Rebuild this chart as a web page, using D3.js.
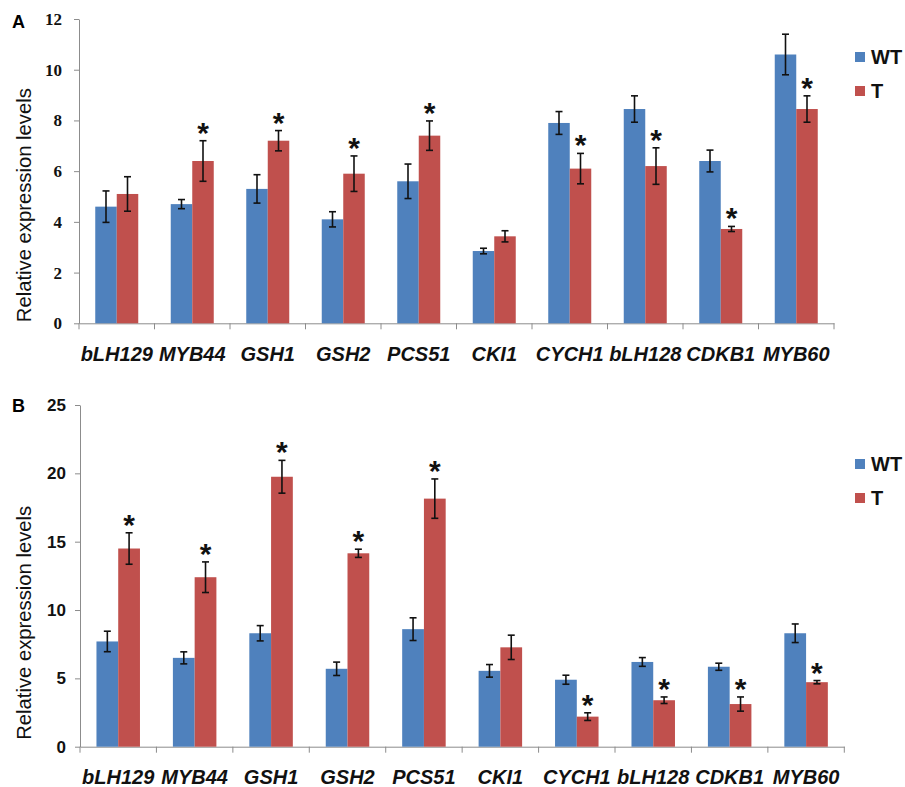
<!DOCTYPE html>
<html>
<head>
<meta charset="utf-8">
<script src="https://cdn.jsdelivr.net/npm/d3@7"></script>
<style>
  body { margin: 0; background: #fff; }
  text { font-family: "Liberation Sans", Arial, sans-serif; }
</style>
</head>
<body>
<div id="chart"></div>
<script>
// genes on the x axis (same for both panels)
var genes = ["bLH129", "MYB44", "GSH1", "GSH2", "PCS51", "CKI1", "CYCH1", "bLH128", "CDKB1", "MYB60"];
var seriesNames = ["WT", "T"];

// panel A values
var wtA = [4.6, 4.7, 5.3, 4.1, 5.6, 2.85, 7.9, 8.45, 6.4, 10.6];
var tA = [5.1, 6.4, 7.2, 5.9, 7.4, 3.43, 6.1, 6.2, 3.72, 8.45];
var wtAErr = [0.62, 0.18, 0.56, 0.3, 0.68, 0.11, 0.45, 0.52, 0.43, 0.8];
var tAErr = [0.68, 0.8, 0.4, 0.7, 0.58, 0.22, 0.6, 0.72, 0.1, 0.52];
var starA = [0, 1, 1, 1, 1, 0, 1, 1, 1, 1];
var ticksA = [0, 2, 4, 6, 8, 10, 12];

// panel B values
var wtB = [7.7, 6.5, 8.3, 5.7, 8.6, 5.55, 4.9, 6.2, 5.85, 8.3];
var tB = [14.5, 12.4, 19.75, 14.15, 18.15, 7.27, 2.2, 3.4, 3.12, 4.72];
var wtBErr = [0.75, 0.44, 0.56, 0.49, 0.83, 0.46, 0.33, 0.32, 0.26, 0.68];
var tBErr = [1.15, 1.12, 1.2, 0.3, 1.44, 0.89, 0.28, 0.24, 0.52, 0.12];
var starB = [1, 1, 1, 1, 1, 0, 1, 1, 1, 1];
var ticksB = [0, 5, 10, 15, 20, 25];

var colors = { WT: "#4F81BD", T: "#C0504D" };
var axisColor = "#8c8c8c";

var svg = d3.select("#chart")
  .append("svg")
  .attr("width", 905)
  .attr("height", 787);

svg.append("rect").attr("width", 905).attr("height", 787).attr("fill", "#fff");

function drawPanel(p) {
  var g = svg.append("g");

  var x = d3.scaleBand().domain(genes).range([p.left, p.right]);
  var y = d3.scaleLinear().domain([0, d3.max(p.ticks)]).range([p.bottom, p.top]);
  var off = (x.step() - p.groupWidth) / 2;
  var x1 = d3.scaleBand().domain(seriesNames).range([0, p.groupWidth]);

  // y axis
  var yAxis = g.append("g")
    .attr("transform", `translate(${p.left},0)`)
    .call(d3.axisLeft(y).tickValues(p.ticks).tickSize(5).tickPadding(p.tickPad).tickSizeOuter(0));
  yAxis.select(".domain").attr("stroke", axisColor);
  yAxis.selectAll(".tick line").attr("stroke", axisColor);
  yAxis.selectAll(".tick text")
    .attr("fill", "#111")
    .style("font-family", p.tickFont)
    .style("font-weight", "bold")
    .style("font-size", p.tickSize + "px");

  // x axis line + boundary ticks
  var xAxis = g.append("g")
    .attr("transform", `translate(0,${p.bottom})`)
    .call(d3.axisBottom(x).tickSize(0).tickSizeOuter(0).tickPadding(p.labelPad));
  xAxis.select(".domain").attr("stroke", axisColor);
  xAxis.selectAll(".tick text")
    .attr("fill", "#111")
    .style("font-family", "'Liberation Sans', Arial, sans-serif")
    .style("font-style", "italic")
    .style("font-weight", "bold")
    .style("font-size", "20px");

  g.selectAll(".bound")
    .data(genes.concat(["end"]))
    .enter()
    .append("line")
    .attr("x1", (d, i) => p.left + i * x.step())
    .attr("x2", (d, i) => p.left + i * x.step())
    .attr("y1", p.bottom)
    .attr("y2", p.bottom + 6)
    .attr("stroke", axisColor);

  // bars
  var rows = [];
  genes.forEach(function(gene, i) {
    rows.push({ gene: gene, s: "WT", v: p.wt[i], e: p.wtErr[i], star: 0 });
    rows.push({ gene: gene, s: "T", v: p.t[i], e: p.tErr[i], star: p.star[i] });
  });

  g.selectAll(".bar")
    .data(rows)
    .enter()
    .append("rect")
    .attr("x", d => x(d.gene) + off + x1(d.s))
    .attr("y", d => y(d.v))
    .attr("width", x1.bandwidth())
    .attr("height", d => y(0) - y(d.v))
    .attr("fill", d => colors[d.s]);

  // error bars
  var eb = g.selectAll(".err")
    .data(rows)
    .enter()
    .append("g")
    .attr("stroke", "#111")
    .attr("stroke-width", 1.6);
  var cx = d => x(d.gene) + off + x1(d.s) + x1.bandwidth() / 2;
  eb.append("line")
    .attr("x1", cx).attr("x2", cx)
    .attr("y1", d => y(d.v + d.e)).attr("y2", d => y(d.v - d.e));
  eb.append("line")
    .attr("x1", d => cx(d) - 3.5).attr("x2", d => cx(d) + 3.5)
    .attr("y1", d => y(d.v + d.e)).attr("y2", d => y(d.v + d.e));
  eb.append("line")
    .attr("x1", d => cx(d) - 3.5).attr("x2", d => cx(d) + 3.5)
    .attr("y1", d => y(d.v - d.e)).attr("y2", d => y(d.v - d.e));

  // significance stars
  g.selectAll(".star")
    .data(rows.filter(d => d.star))
    .enter()
    .append("text")
    .attr("x", cx)
    .attr("y", d => y(d.v + d.e) + 2)
    .attr("text-anchor", "middle")
    .style("font-weight", "bold")
    .style("font-size", "30px")
    .attr("fill", "#111")
    .text("*");

  // y label
  g.append("text")
    .attr("transform", `translate(${p.yLabelX},${(p.top + p.bottom) / 2 + p.yLabelShift}) rotate(-90)`)
    .attr("text-anchor", "middle")
    .style("font-size", "20px")
    .attr("textLength", 234)
    .attr("lengthAdjust", "spacingAndGlyphs")
    .attr("fill", "#111")
    .text("Relative expression levels");

  // panel letter
  g.append("text")
    .attr("x", 12)
    .attr("y", p.letterY)
    .style("font-weight", "bold")
    .style("font-size", "18px")
    .attr("fill", "#000")
    .text(p.letter);

  // legend
  var leg = g.selectAll(".leg")
    .data(seriesNames)
    .enter()
    .append("g")
    .attr("transform", (d, i) => `translate(855,${p.legendY + i * 34})`);
  leg.append("rect")
    .attr("width", 10).attr("height", 10)
    .attr("fill", d => colors[d]);
  leg.append("text")
    .attr("x", 16)
    .attr("y", 12)
    .style("font-weight", "bold")
    .style("font-size", "20px")
    .attr("fill", "#111")
    .text(d => d);
}

drawPanel({
  letter: "A", letterY: 28,
  left: 79, right: 834, top: 19, bottom: 323.3, groupWidth: 43,
  ticks: ticksA, tickFont: "'Liberation Serif', serif", tickSize: 17, tickPad: 12,
  labelPad: 24, yLabelX: 31, yLabelShift: 34,
  wt: wtA, t: tA, wtErr: wtAErr, tErr: tAErr, star: starA,
  legendY: 52
});

drawPanel({
  letter: "B", letterY: 412,
  left: 80, right: 844.3, top: 405, bottom: 746.7, groupWidth: 43.5,
  ticks: ticksB, tickFont: "'Liberation Sans', Arial, sans-serif", tickSize: 17, tickPad: 9,
  labelPad: 23, yLabelX: 31, yLabelShift: 47,
  wt: wtB, t: tB, wtErr: wtBErr, tErr: tBErr, star: starB,
  legendY: 459
});
</script>
</body>
</html>
